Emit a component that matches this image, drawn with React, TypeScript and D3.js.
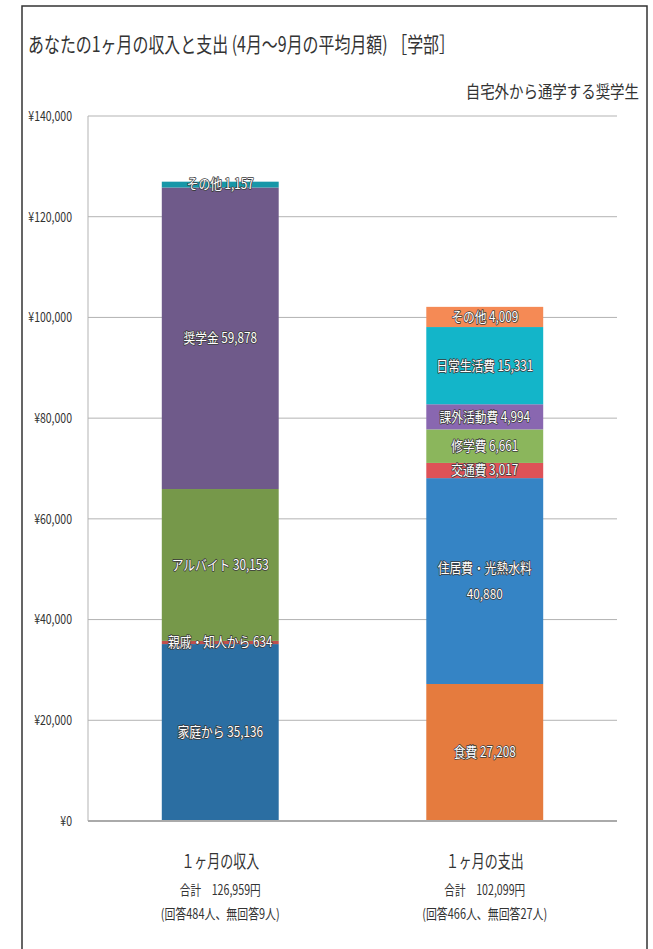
import React from "react";
import * as d3 from "d3";

const categories = ["１ヶ月の収入", "１ヶ月の支出"];
const totals = ["合計　126,959円", "合計　102,099円"];
const respondents = ["(回答484人、無回答9人)", "(回答466人、無回答27人)"];

const incomeLabels = ["家庭から", "親戚・知人から", "アルバイト", "奨学金", "その他"];
const incomeValues = [35136, 634, 30153, 59878, 1157];
const incomeColors = ["#2b6ea2", "#c0504d", "#76984a", "#6f5a8a", "#1797a8"];

const expenseLabels = ["食費", "住居費・光熱水料", "交通費", "修学費", "課外活動費", "日常生活費", "その他"];
const expenseValues = [27208, 40880, 3017, 6661, 4994, 15331, 4009];
const expenseColors = ["#e57b3e", "#3584c5", "#de5257", "#8bb65c", "#8967b0", "#13b5c9", "#f58a55"];

const yTicks = [0, 20000, 40000, 60000, 80000, 100000, 120000, 140000];

const title = "あなたの1ヶ月の収入と支出 (4月～9月の平均月額) ［学部］";
const subtitle = "自宅外から通学する奨学生";

const FONT = "'Noto Sans CJK JP', 'Noto Sans', sans-serif";

type TProps = {
  x: number;
  y: number;
  sx?: number;
  size: number;
  anchor?: "start" | "middle" | "end";
  fill?: string;
  outline?: boolean;
  children: React.ReactNode;
};

const T = ({ x, y, sx = 0.78, size, anchor = "middle", fill = "#222", outline = false, children }: TProps) => (
  <text
    transform={`translate(${x},${y}) scale(${sx},1)`}
    textAnchor={anchor}
    dy="0.35em"
    fontSize={size}
    fontFamily={FONT}
    fill={fill}
    stroke={outline ? "#3a3a3a" : "none"}
    strokeWidth={outline ? 1.6 : 0}
    strokeLinejoin="round"
    style={{ paintOrder: "stroke" } as React.CSSProperties}
  >
    {children}
  </text>
);

export default function App() {
  const W = 653;
  const H = 949;
  const left = 88;
  const right = 617;
  const top = 116;
  const bottom = 821;

  const x = d3.scaleBand<string>().domain(categories).range([left, right]).paddingInner(0.558).paddingOuter(0.279);
  const y = d3.scaleLinear().domain([0, 140000]).range([bottom, top]);
  const fmt = d3.format(",");
  const yFmt = (v: number) => "¥" + d3.format(",")(v);

  const stacks = [
    { labels: incomeLabels, values: incomeValues, colors: incomeColors },
    { labels: expenseLabels, values: expenseValues, colors: expenseColors },
  ];

  return (
    <svg width={W} height={H} style={{ position: "absolute", left: 0, top: 0, background: "#fff" }}>
      <rect x={0} y={0} width={W} height={H} fill="#fff" />
      {/* frame */}
      <rect x={22} y={6} width={625} height={H + 20} fill="none" stroke="#333" strokeWidth={1.5} />

      <text
        x={28}
        y={45}
        dy="0.35em"
        fontSize={21}
        fontFamily={FONT}
        fill="#333"
        textLength={427}
        lengthAdjust="spacingAndGlyphs"
      >
        {title}
      </text>
      <T x={639} y={92} size={17} sx={0.85} anchor="end" fill="#333">
        {subtitle}
      </T>

      {/* gridlines */}
      {yTicks.map((t) => (
        <g key={t}>
          {t > 0 && <line x1={left} x2={right} y1={y(t)} y2={y(t)} stroke="#b3b3b3" strokeWidth={1} />}
          <T x={72} y={y(t)} size={14} sx={0.75} anchor="end" fill="#333">
            {yFmt(t)}
          </T>
        </g>
      ))}
      <line x1={left} x2={left} y1={top} y2={bottom} stroke="#b3b3b3" strokeWidth={1} />

      {/* bars */}
      {stacks.map((s, i) => {
        const cat = categories[i];
        const bx = x(cat) as number;
        const bw = x.bandwidth();
        let acc = 0;
        const segs = s.values.map((v, j) => {
          const y0 = acc;
          acc += v;
          return { y0, y1: acc, v, label: s.labels[j], color: s.colors[j] };
        });
        return (
          <g key={cat}>
            {segs.map((sg) => (
              <rect
                key={sg.label}
                x={bx}
                width={bw}
                y={y(sg.y1)}
                height={y(sg.y0) - y(sg.y1)}
                fill={sg.color}
              />
            ))}
          </g>
        );
      })}
      <line x1={left} x2={right} y1={bottom} y2={bottom} stroke="#aaa" strokeWidth={2} />

      {/* bar labels */}
      {stacks.map((s, i) => {
        const cat = categories[i];
        const cx = (x(cat) as number) + x.bandwidth() / 2;
        let acc = 0;
        return (
          <g key={"l" + cat}>
            {s.values.map((v, j) => {
              const y0 = acc;
              acc += v;
              const my = (y(y0) + y(acc)) / 2;
              const label = s.labels[j];
              if (label === "住居費・光熱水料") {
                return (
                  <g key={label}>
                    <T x={cx} y={my - 13} size={14} sx={0.84} fill="#fff" outline>
                      {label}
                    </T>
                    <T x={cx} y={my + 13} size={14} sx={0.84} fill="#fff" outline>
                      {fmt(v)}
                    </T>
                  </g>
                );
              }
              return (
                <T key={label} x={cx} y={my} size={14} sx={0.84} fill="#fff" outline>
                  {label + " " + fmt(v)}
                </T>
              );
            })}
          </g>
        );
      })}

      {/* category labels */}
      {categories.map((c, i) => {
        const cx = (x(c) as number) + x.bandwidth() / 2;
        return (
          <g key={"c" + c}>
            <T x={cx} y={862} size={18} sx={0.72} fill="#333">
              {c}
            </T>
            <T x={cx} y={890} size={14} sx={0.76} fill="#333">
              {totals[i]}
            </T>
            <T x={cx} y={914} size={14} sx={0.78} fill="#333">
              {respondents[i]}
            </T>
          </g>
        );
      })}
    </svg>
  );
}
